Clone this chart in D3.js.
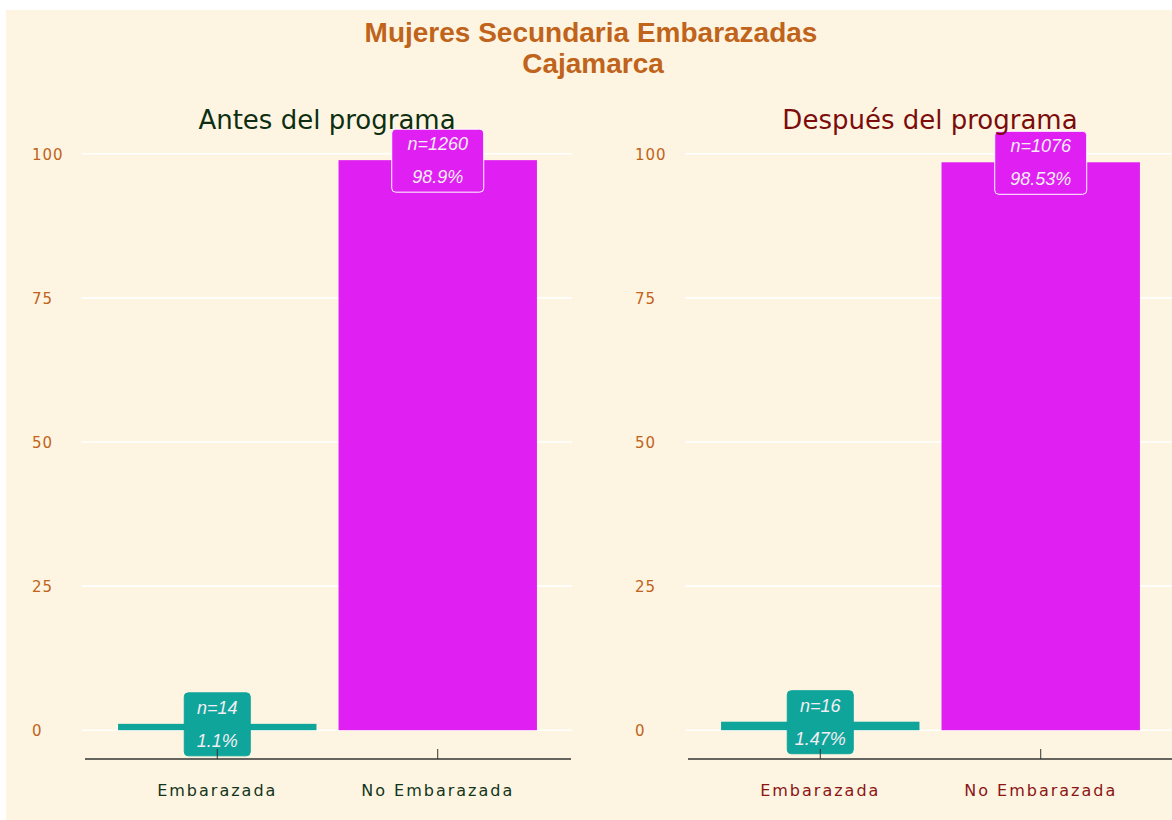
<!DOCTYPE html>
<html>
<head>
<meta charset="utf-8">
<script src="https://cdn.jsdelivr.net/npm/d3@7"></script>
<style>
  body { margin: 0; background: #fff; }
  svg { display: block; }
</style>
</head>
<body>
<svg id="chart" width="1172" height="820"></svg>
<script>
// data
const categories = ["Embarazada", "No Embarazada"]
const panelTitles = ["Antes del programa", "Después del programa"]
const antesPct = [1.1, 98.9]
const antesN = [14, 1260]
const despuesPct = [1.47, 98.53]
const despuesN = [16, 1076]
const yTicks = [0, 25, 50, 75, 100]

const barColors = ["#10a59b", "#e01ff2"]
const panelInk = ["#12341a", "#8b1414"]

const svg = d3.select("#chart")
const W = 1172, H = 820

svg.append("rect")
    .attr("x", 6).attr("y", 10)
    .attr("width", W - 6).attr("height", H - 10)
    .attr("fill", "#fdf5e1")

svg.append("text")
    .attr("x", 591).attr("y", 42)
    .attr("text-anchor", "middle")
    .attr("font-family", "Liberation Sans, Arial, sans-serif")
    .attr("font-weight", "bold")
    .attr("font-size", 28)
    .attr("fill", "#c0631b")
    .text("Mujeres Secundaria Embarazadas")
svg.append("text")
    .attr("x", 593).attr("y", 73)
    .attr("text-anchor", "middle")
    .attr("font-family", "Liberation Sans, Arial, sans-serif")
    .attr("font-weight", "bold")
    .attr("font-size", 28)
    .attr("fill", "#c0631b")
    .text("Cajamarca")

const y = d3.scaleLinear().domain([-5, 105]).range([759, 125])

const panels = [
    {left: 85, pct: antesPct, n: antesN},
    {left: 688, pct: despuesPct, n: despuesN}
]

panels.forEach((p, i) => {
    const g = svg.append("g")
    const x = d3.scaleBand()
        .domain(categories)
        .range([p.left, p.left + 485])
        .paddingInner(0.1)
        .paddingOuter(0.15)

    // grid
    g.selectAll("line.grid")
        .data(yTicks)
        .enter()
        .append("line")
        .attr("x1", p.left - 3).attr("x2", p.left + 487)
        .attr("y1", d => y(d)).attr("y2", d => y(d))
        .attr("stroke", "#ffffff")
        .attr("stroke-width", 1.6)

    // y labels
    g.selectAll("text.ytick")
        .data(yTicks)
        .enter()
        .append("text")
        .attr("x", p.left - 53)
        .attr("y", d => y(d) + 6)
        .attr("font-family", "DejaVu Sans, sans-serif")
        .attr("font-size", 15)
        .attr("letter-spacing", 1)
        .attr("fill", "#c0631b")
        .text(d => d)

    const rows = categories.map((c, k) => ({cat: c, pct: p.pct[k], n: p.n[k], k}))

    g.selectAll("rect.bar")
        .data(rows)
        .enter()
        .append("rect")
        .attr("x", d => x(d.cat))
        .attr("width", x.bandwidth())
        .attr("y", d => y(d.pct))
        .attr("height", d => y(0) - y(d.pct))
        .attr("fill", d => barColors[d.k])

    // labels
    const lab = g.selectAll("g.lab")
        .data(rows)
        .enter()
        .append("g")
        .attr("transform", d => `translate(${x(d.cat) + x.bandwidth() / 2},${y(d.pct)})`)
    lab.append("rect")
        .attr("x", d => d.k === 0 ? -33 : -46)
        .attr("width", d => d.k === 0 ? 66 : 92)
        .attr("y", -31).attr("height", 63)
        .attr("rx", 4)
        .attr("fill", d => barColors[d.k])
        .attr("stroke", d => d.k === 0 ? barColors[0] : "#ffffff")
        .attr("stroke-width", 1)
    lab.append("text")
        .attr("y", -10)
        .attr("text-anchor", "middle")
        .attr("font-family", "Liberation Sans, Arial, sans-serif")
        .attr("font-style", "italic")
        .attr("font-size", 18)
        .attr("fill", "#f4eef4")
        .text(d => "n=" + d.n)
    lab.append("text")
        .attr("y", 23)
        .attr("text-anchor", "middle")
        .attr("font-family", "Liberation Sans, Arial, sans-serif")
        .attr("font-style", "italic")
        .attr("font-size", 18)
        .attr("fill", "#f4eef4")
        .text(d => d.pct + "%")

    // x axis
    g.append("line")
        .attr("x1", p.left).attr("x2", p.left + 486)
        .attr("y1", y(-5)).attr("y2", y(-5))
        .attr("stroke", "#333333")
        .attr("stroke-width", 1.5)
    g.selectAll("line.xtick")
        .data(categories)
        .enter()
        .append("line")
        .attr("x1", d => x(d) + x.bandwidth() / 2)
        .attr("x2", d => x(d) + x.bandwidth() / 2)
        .attr("y1", y(-5)).attr("y2", y(-5) - 10)
        .attr("stroke", "#333333")
        .attr("stroke-width", 1)
    g.selectAll("text.xlab")
        .data(categories)
        .enter()
        .append("text")
        .attr("x", d => x(d) + x.bandwidth() / 2)
        .attr("y", 796)
        .attr("text-anchor", "middle")
        .attr("font-family", "DejaVu Sans, sans-serif")
        .attr("font-size", 16)
        .attr("letter-spacing", 2)
        .attr("fill", panelInk[i])
        .text(d => d)

    g.append("text")
        .attr("x", p.left + 242)
        .attr("y", 129)
        .attr("text-anchor", "middle")
        .attr("font-family", "DejaVu Sans, sans-serif")
        .attr("font-size", 26)
        .attr("fill", i === 0 ? "#0e2e12" : "#7c0c0c")
        .text(panelTitles[i])
})
</script>
</body>
</html>
